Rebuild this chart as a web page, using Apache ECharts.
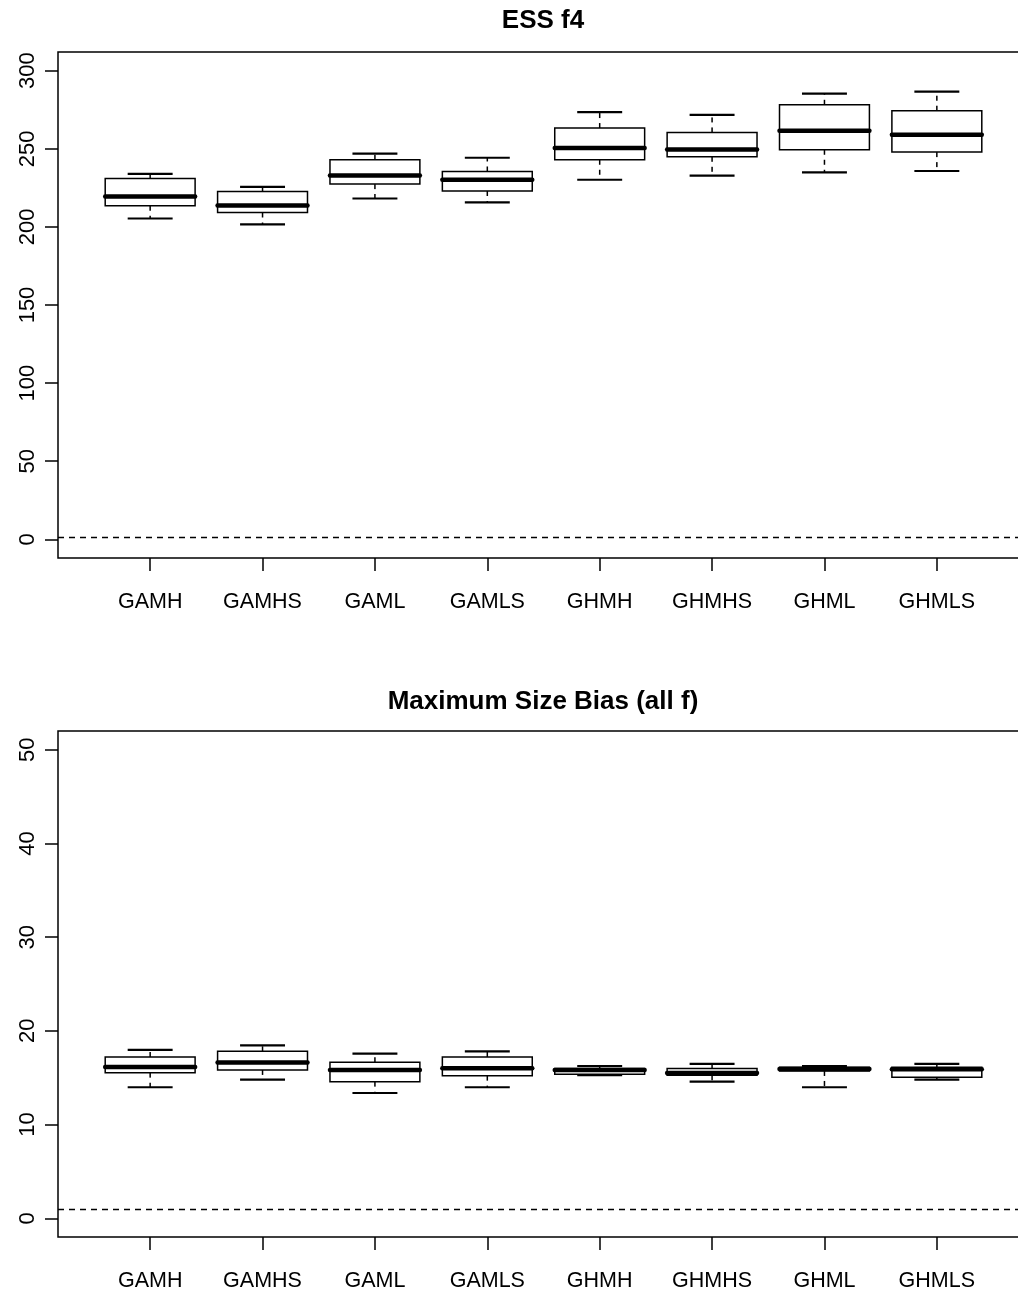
<!DOCTYPE html>
<html>
<head>
<meta charset="utf-8">
<title>ESS f4 / Maximum Size Bias</title>
<script src="https://cdn.jsdelivr.net/npm/echarts@6/dist/echarts.min.js"></script>
<style>
  html, body { margin: 0; padding: 0; background: #fff; }
  #chart { width: 1018px; height: 1295px; }
</style>
</head>
<body>
<div id="chart"></div>
<script>
const categories = ['GAMH', 'GAMHS', 'GAML', 'GAMLS', 'GHMH', 'GHMHS', 'GHML', 'GHMLS']

// ESS f4 (lower whisker, Q1, median, Q3, upper whisker)
const essMin = [205.4, 201.6, 218.2, 215.7, 230.2, 232.8, 234.9, 235.8]
const essQ1 = [213.5, 209.3, 227.4, 223.0, 243.0, 244.9, 249.4, 247.9]
const essMed = [219.5, 213.7, 233.0, 230.2, 250.5, 249.6, 261.6, 259.0]
const essQ3 = [231.0, 222.7, 243.0, 235.5, 263.3, 260.5, 278.2, 274.4]
const essMax = [234.0, 225.7, 246.9, 244.3, 273.5, 271.8, 285.3, 286.6]
const essTicks = [0, 50, 100, 150, 200, 250, 300]

// Maximum Size Bias (all f)
const biasMin = [13.98, 14.79, 13.37, 13.98, 15.26, 14.58, 13.98, 14.79]
const biasQ1 = [15.54, 15.83, 14.58, 15.22, 15.37, 15.26, 15.72, 15.05]
const biasMed = [16.15, 16.61, 15.83, 16.01, 15.83, 15.51, 15.93, 15.90]
const biasQ3 = [17.21, 17.82, 16.65, 17.21, 15.97, 15.97, 16.11, 16.11]
const biasMax = [17.96, 18.46, 17.57, 17.82, 16.25, 16.47, 16.25, 16.47]
const biasTicks = [0, 10, 20, 30, 40, 50]

// reference line drawn in both panels
const refLine = 1

const font = "'Liberation Sans', Arial, Helvetica, sans-serif"
const positions = categories.map((_, i) => i + 1)

const toRows = (mn, q1, md, q3, mx) =>
  categories.map((_, i) => [i + 1, mn[i], q1[i], md[i], q3[i], mx[i]])

// R style box: dashed whiskers, half-width staples, thick median
const renderBox = (params, api) => {
  const x = api.value(0)
  const lo = api.coord([x, api.value(1)])
  const q1 = api.coord([x, api.value(2)])
  const md = api.coord([x, api.value(3)])
  const q3 = api.coord([x, api.value(4)])
  const hi = api.coord([x, api.value(5)])
  const unit = api.size([1, 0])[0]
  const half = unit * 0.4
  const cap = unit * 0.2
  const cx = md[0]
  const dashed = { stroke: '#000', lineWidth: 1.5, lineDash: [5, 5] }
  const solid = { stroke: '#000', lineWidth: 2.2 }
  return {
    type: 'group',
    children: [
      { type: 'line', shape: { x1: cx, y1: q3[1], x2: cx, y2: hi[1] }, style: dashed },
      { type: 'line', shape: { x1: cx, y1: q1[1], x2: cx, y2: lo[1] }, style: dashed },
      { type: 'line', shape: { x1: cx - cap, y1: hi[1], x2: cx + cap, y2: hi[1] }, style: solid },
      { type: 'line', shape: { x1: cx - cap, y1: lo[1], x2: cx + cap, y2: lo[1] }, style: solid },
      {
        type: 'rect',
        shape: { x: cx - half, y: q3[1], width: half * 2, height: q1[1] - q3[1] },
        style: { fill: '#fff', stroke: '#000', lineWidth: 1.5 }
      },
      {
        type: 'line',
        shape: { x1: cx - half, y1: md[1], x2: cx + half, y2: md[1] },
        style: { stroke: '#000', lineWidth: 4.5, lineCap: 'round' }
      }
    ]
  }
}

const xAxisFor = (gridIndex) => ({
  type: 'value',
  gridIndex,
  min: 0.18,
  max: 8.82,
  axisLine: { show: false, onZero: false },
  splitLine: { show: false },
  axisTick: {
    show: true,
    customValues: positions,
    length: 13,
    lineStyle: { color: '#000', width: 1.5 }
  },
  axisLabel: {
    customValues: positions,
    formatter: (v) => categories[Math.round(v) - 1] || '',
    margin: 33,
    color: '#000',
    fontFamily: font,
    fontSize: 21.5
  }
})

const yAxisFor = (gridIndex, lo, hi, ticks) => ({
  type: 'value',
  gridIndex,
  min: lo,
  max: hi,
  axisLine: { show: false, onZero: false },
  splitLine: { show: false },
  axisTick: {
    show: true,
    customValues: ticks,
    length: 13,
    lineStyle: { color: '#000', width: 1.5 }
  },
  axisLabel: {
    customValues: ticks,
    rotate: 90,
    margin: 19,
    color: '#000',
    fontFamily: font,
    fontSize: 22
  }
})

const boxSeries = (idx, rows) => ({
  type: 'custom',
  xAxisIndex: idx,
  yAxisIndex: idx,
  renderItem: renderBox,
  encode: { x: 0, y: [1, 2, 3, 4, 5] },
  data: rows,
  silent: true,
  markLine: {
    silent: true,
    symbol: 'none',
    label: { show: false },
    lineStyle: { color: '#000', type: [6, 5], width: 1.3 },
    data: [{ yAxis: refLine }]
  }
})

const gridFor = (top) => ({
  left: 58,
  width: 971,
  top,
  height: 506,
  outerBoundsMode: 'none',
  containLabel: false,
  show: true,
  borderColor: '#000',
  borderWidth: 1.5,
  backgroundColor: 'transparent'
})

const chart = echarts.init(document.getElementById('chart'))
chart.setOption({
  animation: false,
  backgroundColor: '#fff',
  title: [
    {
      text: 'ESS f4',
      left: 543,
      top: 8,
      padding: 0,
      textAlign: 'center',
      textStyle: { fontFamily: font, fontSize: 26, fontWeight: 'bold', color: '#000' }
    },
    {
      text: 'Maximum Size Bias (all f)',
      left: 543,
      top: 689,
      padding: 0,
      textAlign: 'center',
      textStyle: { fontFamily: font, fontSize: 26, fontWeight: 'bold', color: '#000' }
    }
  ],
  grid: [gridFor(52), gridFor(731)],
  xAxis: [xAxisFor(0), xAxisFor(1)],
  yAxis: [yAxisFor(0, -12, 312, essTicks), yAxisFor(1, -2, 52, biasTicks)],
  series: [
    boxSeries(0, toRows(essMin, essQ1, essMed, essQ3, essMax)),
    boxSeries(1, toRows(biasMin, biasQ1, biasMed, biasQ3, biasMax))
  ]
})
</script>
</body>
</html>
